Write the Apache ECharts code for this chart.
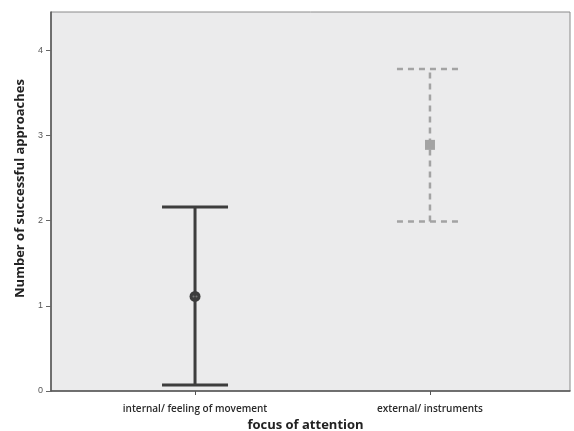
<!DOCTYPE html>
<html><head><meta charset="utf-8">
<script src="https://cdn.jsdelivr.net/npm/echarts@6/dist/echarts.min.js"></script>
<style>html,body{margin:0;padding:0;background:#fff}#c{width:574px;height:431px}</style>
</head><body><div id="c"></div>
<script>
const categories = ['internal/ feeling of movement', 'external/ instruments'];
const positions = [1, 2];
const means = [1.11, 2.89];
const lower = [0.07, 1.99];
const upper = [2.16, 3.78];
const yTicks = [0, 1, 2, 3, 4];

const chart = echarts.init(document.getElementById('c'));
const data = positions.map((p, i) => [p, means[i], lower[i], upper[i], i]);
chart.setOption({
  animation: false,
  grid: {left: 51, right: 4, top: 12, bottom: 40, outerBoundsMode: 'none', containLabel: false, show: true, backgroundColor: '#ebebec', borderColor: '#8a8a8a', borderWidth: 1},
  xAxis: {
    type: 'value', min: 0.387, max: 2.596,
    name: 'focus of attention', nameLocation: 'middle', nameGap: 26,
    nameTextStyle: {fontFamily: 'Open Sans', fontWeight: 'bold', fontSize: 13, color: '#222', padding: [0, 10, 0, 0]},
    splitLine: {show: false},
    axisLine: {show: true, lineStyle: {color: '#555', width: 1.5}},
    axisTick: {show: true, length: 4, customValues: positions, lineStyle: {color: '#555'}},
    axisLabel: {customValues: positions, margin: 13, fontFamily: 'Open Sans', fontWeight: 600, fontSize: 10, color: '#2a2a2a',
      formatter: v => categories[positions.indexOf(v)] || ''}
  },
  yAxis: {
    type: 'value', min: 0, max: 4.45,
    name: 'Number of successful approaches', nameLocation: 'middle', nameGap: 24,
    nameTextStyle: {fontFamily: 'Open Sans', fontWeight: 'bold', fontSize: 13, color: '#222', padding: [0, 0, 0, 26]},
    splitLine: {show: false},
    axisLine: {show: true, lineStyle: {color: '#555', width: 1.5}},
    axisTick: {show: true, length: 5, customValues: yTicks, lineStyle: {color: '#666'}},
    axisLabel: {customValues: yTicks, margin: 8, fontFamily: 'Liberation Sans', fontSize: 9, color: '#555'}
  },
  series: [{
    type: 'custom',
    data: data,
    renderItem: function (params, api) {
      const x = api.value(0), idx = api.value(4);
      const m = api.coord([x, api.value(1)]);
      const lo = api.coord([x, api.value(2)]);
      const hi = api.coord([x, api.value(3)]);
      const hw = 33;
      const solid = idx === 0;
      const style = solid ? {stroke: '#3d3d3d', lineWidth: 3} : {stroke: '#a3a3a3', lineWidth: 2.5, lineDash: [6, 5]};
      const children = [
        {type: 'line', shape: {x1: m[0], y1: lo[1], x2: m[0], y2: hi[1]}, style: style},
        {type: 'line', shape: {x1: m[0] - hw, y1: hi[1], x2: m[0] + hw, y2: hi[1]}, style: style},
        {type: 'line', shape: {x1: m[0] - hw, y1: lo[1], x2: m[0] + hw, y2: lo[1]}, style: style}
      ];
      if (solid) {
        children.push({type: 'circle', shape: {cx: m[0], cy: m[1], r: 5.5}, style: {fill: '#3d3d3d'}});
        children.push({type: 'circle', shape: {cx: m[0] - 1.5, cy: m[1], r: 1}, style: {fill: '#777'}});
        children.push({type: 'circle', shape: {cx: m[0] + 1.5, cy: m[1], r: 1}, style: {fill: '#777'}});
      } else {
        children.push({type: 'rect', shape: {x: m[0] - 5, y: m[1] - 5, width: 10, height: 10}, style: {fill: '#a3a3a3'}});
      }
      return {type: 'group', children: children};
    }
  }]
});
</script></body></html>
